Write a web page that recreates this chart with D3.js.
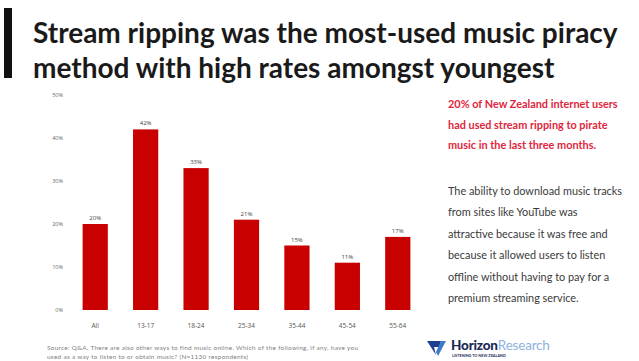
<!DOCTYPE html>
<html><head><meta charset="utf-8">
<script src="https://cdn.jsdelivr.net/npm/d3@7"></script>
<style>body{margin:0;background:#fff}svg{display:block}</style>
</head><body><svg id="c" width="639" height="361"></svg>
<script>
const categories = ["All","13-17","18-24","25-34","35-44","45-54","55-64"];
const values = [20,42,33,21,15,11,17];
const valueLabels = ["20%","42%","33%","21%","15%","11%","17%"];
const yTicks = [0,10,20,30,40,50];
const titleLines = ["Stream ripping was the most-used music piracy","method with high rates amongst youngest"];
const redLines = ["20% of New Zealand internet users","had used stream ripping to pirate","music in the last three months."];
const bodyLines = ["The ability to download music tracks","from sites like YouTube was","attractive because it was free and","because it allowed users to listen","offline without having to pay for a","premium streaming service."];
const sourceLines = ["Source: Q&A. There are also other ways to find music online. Which of the following, if any, have you","used as a way to listen to or obtain music? (N=1130 respondents)"];

const svg = d3.select("#c");
svg.append("rect").attr("x",4).attr("y",8).attr("width",8).attr("height",70).attr("fill","#111");
svg.append("g").selectAll("text").data(titleLines).join("text")
  .attr("x",33).attr("y",(d,i)=>43+i*35)
  .attr("font-family","Lato").attr("font-weight",700).attr("font-size",28)
  .attr("fill","#1a1a1a").text(d=>d);

const x = d3.scaleBand().domain(categories).range([70,423]).paddingInner(0.5).paddingOuter(0.25);
const y = d3.scaleLinear().domain([0,50]).range([310,95]);

const ya = svg.append("g").attr("transform","translate(63,0)")
  .call(d3.axisLeft(y).tickValues(yTicks).tickFormat(d=>d+"%").tickSize(0).tickPadding(0));
ya.select(".domain").remove();
ya.selectAll("text").attr("font-family","Open Sans").attr("font-size",5.5).attr("fill","#666");

const xa = svg.append("g").attr("transform","translate(0,318)")
  .call(d3.axisBottom(x).tickSize(0).tickPadding(5));
xa.select(".domain").remove();
xa.selectAll("text").attr("font-family","Open Sans").attr("font-size",6.5).attr("fill","#555");

svg.append("g").selectAll("rect").data(values).join("rect")
  .attr("x",(d,i)=>x(categories[i])).attr("width",x.bandwidth())
  .attr("y",d=>y(d)).attr("height",d=>y(0)-y(d)).attr("fill","#c80000");
svg.append("g").selectAll("text").data(values).join("text")
  .attr("x",(d,i)=>x(categories[i])+x.bandwidth()/2).attr("y",d=>y(d)-4)
  .attr("text-anchor","middle").attr("font-family","Open Sans").attr("font-size",6)
  .attr("fill","#444").text((d,i)=>valueLabels[i]);

svg.append("g").selectAll("text").data(redLines).join("text")
  .attr("x",448).attr("y",(d,i)=>108+i*20.5)
  .attr("font-family","Lato").attr("font-weight",700).attr("font-size",10.9)
  .attr("fill","#e0263c").text(d=>d);
svg.append("g").selectAll("text").data(bodyLines).join("text")
  .attr("x",448).attr("y",(d,i)=>195+i*21.4)
  .attr("font-family","Lato").attr("font-size",10.9)
  .attr("fill","#3a3a3a").text(d=>d);
svg.append("g").selectAll("text").data(sourceLines).join("text")
  .attr("x",47).attr("y",(d,i)=>350+i*8.5)
  .attr("font-family","Lato").attr("font-size",6.4).attr("letter-spacing",0.3)
  .attr("fill","#808080").text(d=>d);

// logo
const lg = svg.append("g").attr("transform","translate(427,339)");
lg.append("path").attr("d","M0,2 L14,2 L12,8 L7,8 L9,16 Z").attr("fill","#1f3f8f");
lg.append("path").attr("d","M14,2 L19,2 L11,17 L9,13 Z").attr("fill","#3d7ac8");
lg.append("text").attr("x",24).attr("y",10.5).attr("font-family","Lato").attr("font-weight",900)
  .attr("font-size",13.5).attr("fill","#1c2a55").attr("letter-spacing",-0.2).text("Horizon")
  .append("tspan").attr("font-weight",400).attr("fill","#8db3e0").text("Research");
lg.append("text").attr("x",25).attr("y",18).attr("font-family","Lato").attr("font-weight",700)
  .attr("font-size",3.8).attr("fill","#1c2a55").text("LISTENING TO NEW ZEALAND");
</script></body></html>
